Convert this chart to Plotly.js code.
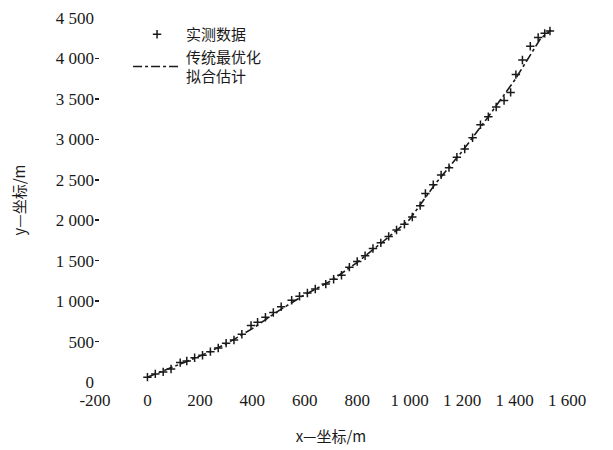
<!DOCTYPE html>
<html>
<head>
<meta charset="utf-8">
<script src="https://cdn.plot.ly/plotly-3.0.1.min.js"></script>
<style>html,body{margin:0;padding:0;background:#fff;}#chart{width:613px;height:450px;}</style>
</head>
<body>
<div id="chart"></div>
<script>
// Measured data (实测数据)
var measuredX = [0, 30, 60, 90, 125, 150, 180, 210, 240, 270, 300, 330, 360, 395, 420, 450, 480, 510, 550, 580, 610, 640, 680, 710, 740, 770, 800, 830, 860, 890, 920, 950, 980, 1010, 1040, 1060, 1090, 1120, 1150, 1180, 1210, 1240, 1270, 1300, 1330, 1360, 1385, 1405, 1430, 1460, 1490, 1515, 1535];
var measuredY = [60, 100, 125, 160, 240, 260, 300, 330, 375, 420, 480, 520, 590, 700, 740, 800, 860, 930, 1010, 1060, 1100, 1150, 1210, 1270, 1320, 1420, 1490, 1560, 1650, 1720, 1800, 1880, 1950, 2040, 2180, 2330, 2440, 2560, 2650, 2780, 2880, 3020, 3180, 3280, 3400, 3480, 3580, 3800, 3980, 4150, 4260, 4310, 4340];
// Fitted curve
var fitX = [0, 100, 200, 300, 400, 500, 600, 700, 800, 900, 1000, 1100, 1200, 1300, 1400, 1500, 1540];
var fitY = [60, 190, 320, 470, 660, 880, 1080, 1250, 1480, 1740, 2010, 2460, 2850, 3280, 3730, 4250, 4350];
// Labels
var seriesNames = ["实测数据", "传统最优化<br>拟合估计"];
var xTitle = "x—坐标/m";
var yTitle = "y—坐标/m";
var xTicks = [-200, 0, 200, 400, 600, 800, 1000, 1200, 1400, 1600];
var yTicks = [0, 500, 1000, 1500, 2000, 2500, 3000, 3500, 4000, 4500];

var fontFam = "Liberation Serif, Noto Sans CJK SC, serif";
var cjkFam = "Noto Sans CJK SC, serif";
var ink = "#1a1a1a";

function fmt(v) { return v.toLocaleString('en-US').replace(/,/g, ' '); }

var traces = [
  {
    x: measuredX, y: measuredY, name: seriesNames[0], type: "scatter", mode: "markers",
    marker: {symbol: "cross-thin", size: 6, color: ink, line: {color: ink, width: 1.5}}
  },
  {
    x: fitX, y: fitY, name: seriesNames[1], type: "scatter", mode: "lines",
    line: {color: ink, width: 1.6, dash: "dashdot"}
  }
];

var layout = {
  width: 613, height: 450,
  margin: {l: 95, r: 46, t: 18, b: 68},
  paper_bgcolor: "#fff", plot_bgcolor: "#fff",
  font: {family: fontFam, size: 16, color: ink},
  showlegend: true,
  legend: {x: 0.07, y: 1.0, xanchor: "left", yanchor: "top", bgcolor: "rgba(0,0,0,0)",
           itemwidth: 48,
           font: {family: cjkFam, size: 15, color: ink}, tracegroupgap: 0},
  xaxis: {
    range: [-200, 1600], tickvals: xTicks, ticktext: xTicks.map(fmt),
    showgrid: false, zeroline: false, showline: false, ticks: "",
    ticklabelstandoff: 6,
    tickfont: {family: fontFam, size: 17, color: ink},
    title: {text: xTitle, font: {family: cjkFam, size: 15, color: ink}, standoff: 22}
  },
  yaxis: {
    range: [0, 4500], tickvals: yTicks, ticktext: yTicks.map(fmt),
    showgrid: false, zeroline: false, showline: false, ticks: "inside", ticklen: 4, tickcolor: ink, tickwidth: 1.5,
    tickfont: {family: fontFam, size: 17, color: ink},
    title: {text: yTitle, font: {family: cjkFam, size: 15, color: ink}, standoff: 26}
  }
};

Plotly.newPlot("chart", traces, layout, {displayModeBar: false, staticPlot: true});
</script>
</body>
</html>
